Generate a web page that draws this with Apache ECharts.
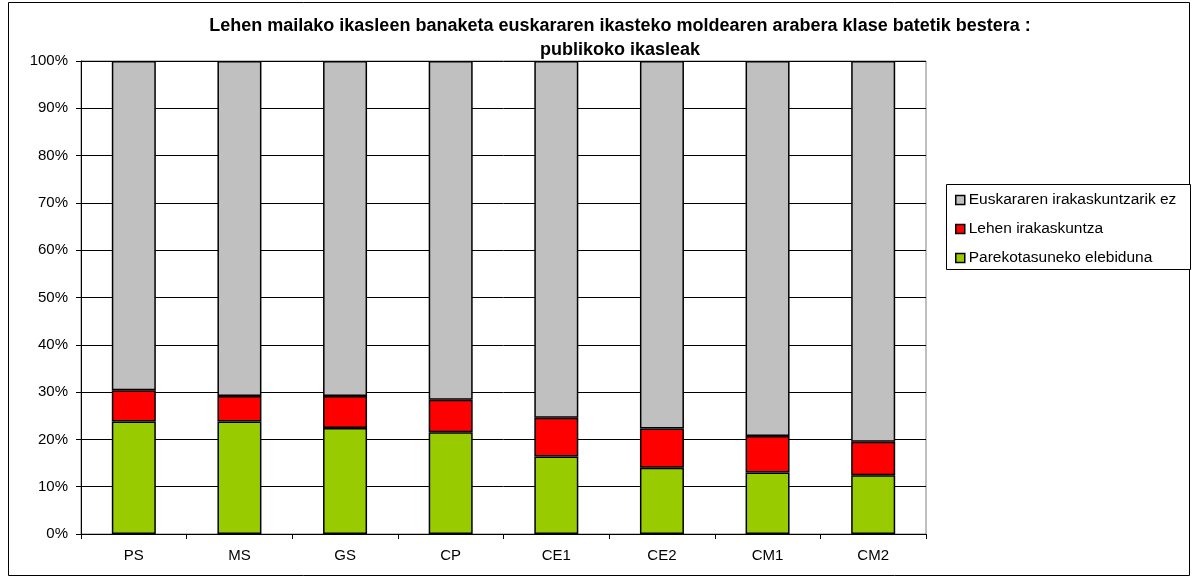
<!DOCTYPE html>
<html>
<head>
<meta charset="utf-8">
<script src="https://cdn.jsdelivr.net/npm/echarts@6/dist/echarts.min.js"></script>
<style>
  html, body { margin: 0; padding: 0; background: #fff; }
  #chart { width: 1196px; height: 578px; }
</style>
</head>
<body>
<div id="chart"></div>
<script>
const categories = ['PS', 'MS', 'GS', 'CP', 'CE1', 'CE2', 'CM1', 'CM2']
const parekotasuneko = [23.8, 23.8, 22.4, 21.5, 16.4, 14.0, 13.0, 12.4]
const lehen = [6.6, 5.4, 6.8, 6.9, 8.2, 8.3, 7.7, 7.1]
const gabe = [69.6, 70.8, 70.8, 71.6, 75.4, 77.7, 79.3, 80.5]
const seriesNames = ['Parekotasuneko elebiduna', 'Lehen irakaskuntza', 'Euskararen irakaskuntzarik ez']
const colors = ['#99cc00', '#ff0000', '#c0c0c0']

const chart = echarts.init(document.getElementById('chart'))
const font = 'Liberation Sans, Arial, sans-serif'

const mkSeries = (name, data, color) => ({
  name: name,
  type: 'bar',
  stack: 'total',
  barWidth: 44,
  data: data,
  itemStyle: { color: color, borderColor: '#000', borderWidth: 1.5 }
})

const option = {
  animation: false,
  textStyle: { fontFamily: font },
  title: {
    text: 'Lehen mailako ikasleen banaketa euskararen ikasteko moldearen arabera klase batetik bestera :\npublikoko ikasleak',
    left: 615,
    textAlign: 'center',
    top: 9,
    textStyle: { fontSize: 18, fontWeight: 'bold', color: '#000', lineHeight: 24, fontFamily: font }
  },
  graphic: [
    { type: 'rect', shape: { x: 8.5, y: 2.5, width: 1181, height: 573 }, style: { fill: 'none', stroke: '#000', lineWidth: 1 } },
    { type: 'rect', shape: { x: 946.5, y: 184.5, width: 244, height: 85 }, style: { fill: '#fff', stroke: '#000', lineWidth: 1 }, z: 0 }
  ],
  legend: {
    orient: 'vertical',
    left: 950,
    top: 187,
    itemWidth: 9,
    itemHeight: 9,
    itemGap: 13,
    icon: 'rect',
    data: seriesNames.slice().reverse(),
    itemStyle: { borderColor: '#000', borderWidth: 1.5 },
    textStyle: { fontSize: 15.5, color: '#000', fontFamily: font, height: 18, padding: [0, 0, 0, -1] }
  },
  grid: {
    left: 81,
    top: 61,
    width: 845,
    height: 473,
    show: true,
    borderColor: '#808080',
    borderWidth: 1,
    containLabel: false
  },
  xAxis: {
    type: 'category',
    data: categories,
    axisLine: { lineStyle: { color: '#000', width: 1 } },
    axisTick: { show: true, alignWithLabel: false, length: 5, lineStyle: { color: '#000' } },
    axisLabel: { color: '#000', fontSize: 15, margin: 14, fontFamily: font }
  },
  yAxis: {
    type: 'value',
    min: 0,
    max: 100,
    interval: 10,
    axisLine: { show: true, lineStyle: { color: '#000', width: 1 } },
    axisTick: { show: true, length: 5, lineStyle: { color: '#000' } },
    axisLabel: { color: '#000', fontSize: 15, margin: 13, formatter: '{value}%', fontFamily: font },
    splitLine: { show: true, lineStyle: { color: '#000', width: 1 } }
  },
  series: [
    mkSeries(seriesNames[0], parekotasuneko, colors[0]),
    mkSeries(seriesNames[1], lehen, colors[1]),
    mkSeries(seriesNames[2], gabe, colors[2])
  ]
}
chart.setOption(option)
</script>
</body>
</html>
